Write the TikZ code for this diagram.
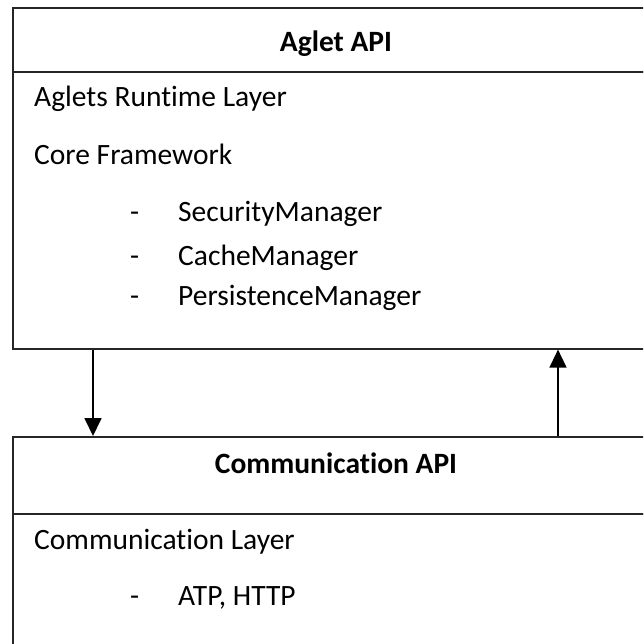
\documentclass[tikz,border=0pt]{standalone}
\usepackage{fontspec}
\setmainfont[RawFeature={-liga,-clig,-calt,-dlig}]{Carlito}
\usetikzlibrary{arrows.meta}

\begin{document}
\begin{tikzpicture}
[
 x=1pt, y=-1pt,
 BOX/.style={rectangle, draw=black!85, line width=1.6pt, anchor=north west, inner sep=0pt, minimum width=648pt},
 HEAD/.style={anchor=base, inner sep=0pt, font=\fontsize{29.5}{34}\selectfont\bfseries},
 ITEM/.style={anchor=base west, inner sep=0pt, font=\fontsize{29.5}{34}\selectfont},
 LINK/.style={draw=black, line width=1.8pt, -{Triangle[length=18pt,width=17pt]}},
 ]
%
\useasboundingbox (0,0) rectangle (643,644);
\clip (0,0) rectangle (643,644);
\fill [white] (0,0) rectangle (643,644);
%
\node [BOX, minimum height=64pt]   (AGLETHEAD)  at ( 12,   7)  {};
\node [BOX, minimum height=277pt]  (AGLETBODY)  at ( 12,  71)  {};
\node [BOX, minimum height=77pt]   (COMMHEAD)   at ( 12, 436)  {};
\node [BOX, minimum height=200pt]  (COMMBODY)   at ( 12, 513)  {};
%
\node [HEAD]  (AGLETTITLE)  at (336,  52)  {Aglet API};
\node [HEAD]  (COMMTITLE)   at (336, 473)  {Communication API};
%
\node [ITEM]  (RUNTIME)   at ( 34, 107)  {Aglets Runtime Layer};
\node [ITEM]  (CORE)      at ( 34, 165)  {Core Framework};
\node [ITEM]  (SECDASH)   at (130, 222)  {-};
\node [ITEM]  (SECURITY)  at (178, 222)  {SecurityManager};
\node [ITEM]  (CACHEDASH) at (130, 265)  {-};
\node [ITEM]  (CACHE)     at (178, 265)  {CacheManager};
\node [ITEM]  (PERSDASH)  at (130, 305)  {-};
\node [ITEM]  (PERSIST)   at (178, 305)  {PersistenceManager};
%
\node [ITEM]  (COMMLAYER) at ( 34, 549)  {Communication Layer};
\node [ITEM]  (ATPDASH)   at (130, 605)  {-};
\node [ITEM]  (ATP)       at (178, 605)  {ATP, HTTP};
%
\draw [LINK]  (AGLETBODY.south -| 93,0)  -- (COMMHEAD.north -| 93,0) ;
\draw [LINK, line width=1.4pt]  (COMMHEAD.north -| 558,0)  -- (AGLETBODY.south -| 558,0) ;
%
\end{tikzpicture}
\end{document}
